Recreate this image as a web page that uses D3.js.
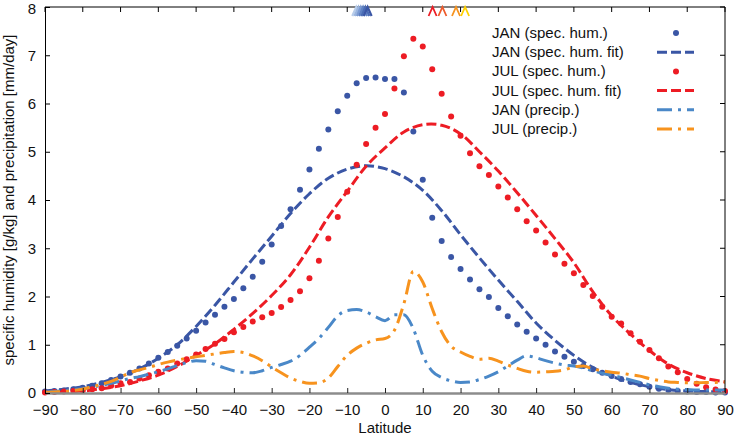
<!DOCTYPE html>
<html>
<head>
<meta charset="utf-8">
<script src="https://cdn.jsdelivr.net/npm/d3@7"></script>
<style>
  body { margin: 0; background: #fff; }
  svg { display: block; font-family: "Liberation Sans", Arial, Helvetica, sans-serif; }
</style>
</head>
<body>
<script>
// latitude grid of the zonal-mean samples (2.5 deg)
const lat = [-90, -87.5, -85, -82.5, -80, -77.5, -75, -72.5, -70, -67.5, -65, -62.5, -60, -57.5, -55, -52.5,
  -50, -47.5, -45, -42.5, -40, -37.5, -35, -32.5, -30, -27.5, -25, -22.5, -20, -17.5, -15, -12.5,
  -10, -7.5, -5, -2.5, 0, 2.5, 5, 7.5, 10, 12.5, 15, 17.5, 20, 22.5, 25, 27.5,
  30, 32.5, 35, 37.5, 40, 42.5, 45, 47.5, 50, 52.5, 55, 57.5, 60, 62.5, 65, 67.5,
  70, 72.5, 75, 77.5, 80, 82.5, 85, 87.5, 90];

const janHum = [0.03, 0.04, 0.05, 0.08, 0.11, 0.15, 0.2, 0.27, 0.34, 0.42, 0.51, 0.61, 0.73, 0.85, 0.98, 1.13,
  1.29, 1.46, 1.62, 1.79, 1.95, 2.17, 2.41, 2.72, 3.08, 3.46, 3.81, 4.21, 4.63, 5.06, 5.46, 5.84,
  6.16, 6.42, 6.53, 6.54, 6.51, 6.51, 6.23, 5.42, 4.42, 3.63, 3.15, 2.82, 2.57, 2.35, 2.15, 1.99,
  1.76, 1.59, 1.42, 1.27, 1.13, 1.0, 0.86, 0.75, 0.65, 0.56, 0.49, 0.42, 0.35, 0.29, 0.23, 0.18,
  0.13, 0.09, 0.06, 0.04, 0.03, 0.02, 0.02, 0.01, 0.01];

const julHum = [0.01, 0.02, 0.03, 0.04, 0.05, 0.08, 0.1, 0.15, 0.2, 0.23, 0.3, 0.37, 0.44, 0.51, 0.61, 0.7,
  0.8, 0.91, 1.02, 1.12, 1.26, 1.37, 1.48, 1.57, 1.66, 1.78, 1.93, 2.11, 2.38, 2.74, 3.2, 3.65,
  4.17, 4.73, 5.16, 5.5, 5.78, 6.31, 6.98, 7.34, 7.18, 6.71, 6.2, 5.73, 5.33, 4.97, 4.7, 4.52,
  4.28, 4.05, 3.81, 3.56, 3.37, 3.12, 2.87, 2.68, 2.48, 2.24, 2.01, 1.79, 1.58, 1.44, 1.24, 1.06,
  0.89, 0.72, 0.55, 0.43, 0.29, 0.19, 0.12, 0.07, 0.04];

const janPrecip = [0.02, 0.03, 0.05, 0.07, 0.09, 0.12, 0.16, 0.2, 0.25, 0.3, 0.34, 0.39, 0.44, 0.5, 0.57, 0.63,
  0.67, 0.66, 0.59, 0.52, 0.46, 0.43, 0.42, 0.46, 0.53, 0.59, 0.66, 0.78, 0.95, 1.13, 1.36, 1.6,
  1.71, 1.73, 1.68, 1.58, 1.5, 1.62, 1.62, 1.33, 0.78, 0.45, 0.32, 0.25, 0.22, 0.23, 0.28, 0.35,
  0.44, 0.56, 0.68, 0.77, 0.73, 0.67, 0.62, 0.58, 0.56, 0.52, 0.46, 0.41, 0.37, 0.32, 0.27, 0.22,
  0.17, 0.13, 0.1, 0.08, 0.07, 0.06, 0.06, 0.06, 0.06];

const julPrecip = [0.01, 0.02, 0.03, 0.05, 0.08, 0.13, 0.18, 0.24, 0.33, 0.42, 0.48, 0.53, 0.59, 0.64, 0.68, 0.72,
  0.75, 0.78, 0.81, 0.84, 0.86, 0.84, 0.77, 0.67, 0.54, 0.42, 0.31, 0.24, 0.2, 0.21, 0.31, 0.55,
  0.78, 0.93, 1.03, 1.1, 1.13, 1.3, 1.85, 2.52, 2.3, 1.75, 1.27, 0.97, 0.85, 0.76, 0.7, 0.72,
  0.66, 0.58, 0.51, 0.45, 0.43, 0.44, 0.45, 0.48, 0.54, 0.56, 0.5, 0.46, 0.43, 0.41, 0.38, 0.35,
  0.3, 0.26, 0.23, 0.22, 0.21, 0.21, 0.22, 0.22, 0.23];

// fitted curves, read at 5 deg
const fitLat = [-90, -85, -80, -75, -70, -65, -60, -55, -50, -45, -40, -35, -30, -25, -20, -15, -10, -5,
  0, 5, 10, 15, 20, 25, 30, 35, 40, 45, 50, 55, 60, 65, 70, 75, 80, 85, 90];
const janFit = [0.04, 0.08, 0.13, 0.22, 0.34, 0.5, 0.72, 1.0, 1.38, 1.82, 2.3, 2.78, 3.25, 3.72, 4.13, 4.45, 4.64, 4.71,
  4.65, 4.48, 4.2, 3.78, 3.28, 2.8, 2.34, 1.9, 1.45, 1.09, 0.78, 0.53, 0.35, 0.22, 0.13, 0.07, 0.04, 0.03, 0.02];
const julFit = [0.01, 0.02, 0.04, 0.09, 0.15, 0.25, 0.37, 0.55, 0.78, 1.02, 1.32, 1.65, 2.02, 2.45, 3.02, 3.65, 4.18, 4.7,
  5.08, 5.41, 5.56, 5.55, 5.37, 5.0, 4.6, 4.15, 3.68, 3.2, 2.7, 2.1, 1.6, 1.22, 0.88, 0.6, 0.42, 0.3, 0.23];

// markers along the top edge
const janMarks = [-7.6, -7.0, -6.4, -5.8, -5.2, -4.6];
const janMarkColors = ["#b8cdea", "#9ab5e0", "#7b9ad2", "#5f82c4", "#4a6cb5", "#3a56a5"];
const julMarks = [12.6, 15.2, 18.8, 21.2];
const julMarkColors = ["#ed1c24", "#ee5a2a", "#f7931e", "#ffd200"];

const xTicks = d3.range(-90, 91, 10);
const yTicks = [0, 1, 2, 3, 4, 5, 6, 7, 8];

const legendItems = [
  { label: "JAN (spec. hum.)", color: "#3a56a5", type: "dot" },
  { label: "JAN (spec. hum. fit)", color: "#3a56a5", type: "dash" },
  { label: "JUL (spec. hum.)", color: "#ed1c24", type: "dot" },
  { label: "JUL (spec. hum. fit)", color: "#ed1c24", type: "dash" },
  { label: "JAN (precip.)", color: "#4a88c8", type: "dashdot" },
  { label: "JUL (precip.)", color: "#f7931e", type: "dashdot" }
];

const W = 735, H = 438;
const margin = { top: 7, right: 10, bottom: 45, left: 45 };
const w = W - margin.left - margin.right;
const h = H - margin.top - margin.bottom;

const x = d3.scaleLinear().domain([-90, 90]).range([0, w]);
const y = d3.scaleLinear().domain([0, 8]).range([h, 0]);

const svg = d3.select("body").append("svg")
  .attr("width", W).attr("height", H);
const g = svg.append("g").attr("transform", `translate(${margin.left},${margin.top})`);

const dashStyle = { dash: "10,4", dashdot: "15,6,3,6" };

const line = (xs, ys, curve) => d3.line()
  .x((d, i) => x(xs[i]))
  .y(d => y(d))
  .curve(curve)(ys);

const drawDots = (vals, color) => {
  g.append("g").selectAll("circle")
    .data(vals)
    .enter()
    .append("circle")
    .attr("cx", (d, i) => x(lat[i]))
    .attr("cy", d => y(d))
    .attr("r", 3)
    .attr("fill", color);
};

const drawLine = (xs, ys, color, type, curve) => {
  g.append("path")
    .attr("d", line(xs, ys, curve))
    .attr("fill", "none")
    .attr("stroke", color)
    .attr("stroke-width", 3)
    .attr("stroke-dasharray", dashStyle[type]);
};

drawDots(janHum, "#3a56a5");
drawLine(fitLat, janFit, "#3a56a5", "dash", d3.curveCatmullRom);
drawDots(julHum, "#ed1c24");
drawLine(fitLat, julFit, "#ed1c24", "dash", d3.curveCatmullRom);
drawLine(lat, janPrecip, "#4a88c8", "dashdot", d3.curveMonotoneX);
drawLine(lat, julPrecip, "#f7931e", "dashdot", d3.curveMonotoneX);

// frame: top and right borders with inward ticks
g.append("line").attr("x1", 0).attr("x2", w).attr("y1", 0).attr("y2", 0)
  .attr("stroke", "#000").attr("stroke-width", 1);
g.append("line").attr("x1", w).attr("x2", w).attr("y1", 0).attr("y2", h)
  .attr("stroke", "#000").attr("stroke-width", 1);
g.append("g").selectAll("line")
  .data(xTicks)
  .enter()
  .append("line")
  .attr("x1", d => x(d)).attr("x2", d => x(d))
  .attr("y1", 0).attr("y2", 5)
  .attr("stroke", "#000");
g.append("g").selectAll("line")
  .data(yTicks)
  .enter()
  .append("line")
  .attr("x1", w - 5).attr("x2", w)
  .attr("y1", d => y(d)).attr("y2", d => y(d))
  .attr("stroke", "#000");

// bottom axis
const xAxis = g.append("g")
  .attr("transform", `translate(0, ${h})`)
  .call(d3.axisBottom(x).tickValues(xTicks).tickSizeInner(-5).tickSizeOuter(0).tickPadding(11));
xAxis.select(".domain").attr("stroke", "#8c8c8c").attr("stroke-width", 2.5);
xAxis.selectAll(".tick line").attr("stroke", "#222");
xAxis.selectAll("text").attr("font-size", 15).attr("fill", "#111")
  .attr("font-family", "Liberation Sans, Arial, sans-serif");

// left axis
const yAxis = g.append("g")
  .call(d3.axisLeft(y).tickValues(yTicks).tickSizeInner(-5).tickSizeOuter(0).tickPadding(9));
yAxis.select(".domain").attr("stroke", "#000");
yAxis.selectAll("text").attr("font-size", 15).attr("fill", "#111")
  .attr("font-family", "Liberation Sans, Arial, sans-serif");
// keep the top label inside the page
yAxis.selectAll(".tick").filter(d => d === 8).select("text").attr("dy", "0.45em");

// top markers
const chevron = (cx) => `M${cx - 4},${9} L${cx},${0} L${cx + 4},${9}`;
g.append("g").selectAll("path")
  .data(janMarks)
  .enter()
  .append("path")
  .attr("d", d => chevron(x(d)))
  .attr("fill", "none")
  .attr("stroke", (d, i) => janMarkColors[i])
  .attr("stroke-width", 2.2);
g.append("g").selectAll("path")
  .data(julMarks)
  .enter()
  .append("path")
  .attr("d", d => chevron(x(d)))
  .attr("fill", "none")
  .attr("stroke", (d, i) => julMarkColors[i])
  .attr("stroke-width", 1.8);

// axis titles
svg.append("text")
  .attr("x", margin.left + x(0))
  .attr("y", 433)
  .attr("text-anchor", "middle")
  .attr("font-size", 15)
  .attr("fill", "#111")
  .text("Latitude");
svg.append("text")
  .attr("transform", `translate(14, ${margin.top + h / 2}) rotate(-90)`)
  .attr("text-anchor", "middle")
  .attr("font-size", 15)
  .attr("fill", "#111")
  .text("specific humidity [g/kg] and precipitation [mm/day]");

// legend
const legend = svg.append("g").attr("transform", "translate(492, 33)");
const rows = legend.selectAll("g")
  .data(legendItems)
  .enter()
  .append("g")
  .attr("transform", (d, i) => `translate(0, ${i * 19.2})`);
rows.append("text")
  .attr("y", 5)
  .attr("font-size", 15)
  .attr("fill", "#111")
  .text(d => d.label);
rows.filter(d => d.type === "dot").append("circle")
  .attr("cx", 184).attr("cy", 0).attr("r", 3)
  .attr("fill", d => d.color);
rows.filter(d => d.type !== "dot").append("line")
  .attr("x1", 165).attr("x2", 202)
  .attr("y1", 0).attr("y2", 0)
  .attr("stroke", d => d.color)
  .attr("stroke-width", 3)
  .attr("stroke-dasharray", d => dashStyle[d.type]);
</script>
</body>
</html>
